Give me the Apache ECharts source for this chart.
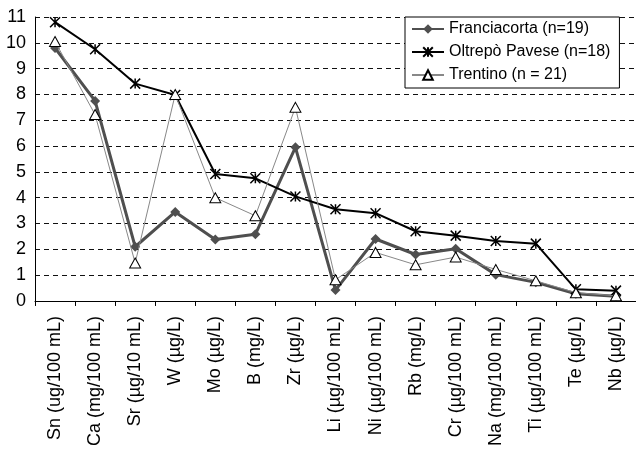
<!DOCTYPE html>
<html>
<head>
<meta charset="utf-8">
<script src="https://cdn.jsdelivr.net/npm/echarts@6/dist/echarts.min.js"></script>
<style>
  html, body { margin: 0; padding: 0; background: #fff; }
  #chart { width: 636px; height: 449px; }
</style>
</head>
<body>
<div id="chart"></div>
<script>
// Element categories with their units
const categories = [
  'Sn (ug/100 mL)', 'Ca (mg/100 mL)', 'Sr (µg/10 mL)', 'W (µg/L)', 'Mo (µg/L)',
  'B (mg/L)', 'Zr (µg/L)', 'Li (µg/100 mL)', 'Ni (µg/100 mL)', 'Rb (mg/L)',
  'Cr (µg/100 mL)', 'Na (mg/100 mL)', 'Ti (µg/100 mL)', 'Te (µg/L)', 'Nb (µg/L)'
];

const franciacorta = [9.8, 7.75, 2.1, 3.45, 2.38, 2.58, 5.95, 0.42, 2.4, 1.8, 2.02, 1.02, 0.72, 0.28, 0.18];
const oltrepo      = [10.8, 9.75, 8.42, 7.98, 4.92, 4.75, 4.05, 3.55, 3.4, 2.7, 2.53, 2.32, 2.22, 0.45, 0.4];
const trentino     = [10.05, 7.22, 1.47, 8.0, 4.0, 3.3, 7.5, 0.82, 1.88, 1.4, 1.7, 1.22, 0.78, 0.32, 0.2];

const seriesNames = ['Franciacorta (n=19)', 'Oltrepò Pavese (n=18)', 'Trentino (n = 21)'];
const yTicks = { min: 0, max: 11, step: 1 };

const FONT = '"Liberation Sans", Arial, sans-serif';
const starPath = 'path://M0,0 L10,10 M10,0 L0,10 M5,0 L5,10';

const chart = echarts.init(document.getElementById('chart'), null, { renderer: 'canvas' });

chart.setOption({
  animation: false,
  backgroundColor: '#fff',
  textStyle: { fontFamily: FONT },
  grid: { left: 35, right: -6, top: 17, bottom: 147 },
  legend: {
    orient: 'vertical',
    left: 405,
    top: 17,
    padding: [4, 9, 5, 6],
    itemGap: 7,
    itemWidth: 32,
    itemHeight: 12,
    borderColor: '#000',
    borderWidth: 1,
    backgroundColor: '#fff',
    textStyle: { fontSize: 16, color: '#000', fontFamily: FONT },
    data: seriesNames
  },
  xAxis: {
    type: 'category',
    data: categories,
    boundaryGap: true,
    axisLine: { lineStyle: { color: '#000', width: 1 } },
    axisTick: { show: true, length: 5, lineStyle: { color: '#000' } },
    axisLabel: {
      rotate: 90,
      interval: 0,
      margin: 15,
      fontSize: 18,
      color: '#000',
      fontFamily: FONT
    },
    splitLine: { show: false }
  },
  yAxis: {
    type: 'value',
    min: yTicks.min,
    max: yTicks.max,
    interval: yTicks.step,
    axisLine: { show: true, lineStyle: { color: '#000', width: 1 } },
    axisTick: { show: false },
    axisLabel: { fontSize: 18, color: '#000', margin: 9, fontFamily: FONT },
    splitLine: { show: true, lineStyle: { color: '#111', type: [5, 4], width: 1 } }
  },
  series: [
    {
      name: seriesNames[0],
      type: 'line',
      data: franciacorta,
      symbol: 'diamond',
      symbolSize: [10, 10],
      showAllSymbol: true,
      lineStyle: { color: '#4f4f4f', width: 3 },
      itemStyle: { color: '#4f4f4f', borderColor: '#4f4f4f', borderWidth: 0 },
      z: 2
    },
    {
      name: seriesNames[1],
      type: 'line',
      data: oltrepo,
      symbol: starPath,
      symbolSize: [10, 10],
      showAllSymbol: true,
      lineStyle: { color: '#000', width: 2 },
      itemStyle: { color: '#000', borderColor: '#000', borderWidth: 1.5 },
      z: 3
    },
    {
      name: seriesNames[2],
      type: 'line',
      data: trentino,
      symbol: 'triangle',
      symbolSize: [11, 10],
      showAllSymbol: true,
      lineStyle: { color: '#888', width: 1 },
      itemStyle: { color: '#fff', borderColor: '#000', borderWidth: 1 },
      z: 4
    }
  ]
});
</script>
</body>
</html>
